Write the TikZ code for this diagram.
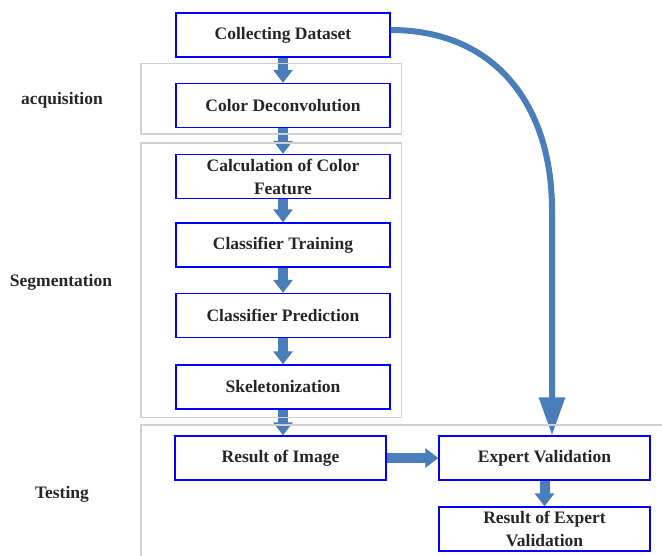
\documentclass[tikz,border=0pt]{standalone}
\usepackage{fontspec}
\setmainfont{Liberation Serif}
\usetikzlibrary{arrows.meta}
\definecolor{arrowblue}{RGB}{74,126,187}
\definecolor{framegray}{RGB}{208,208,210}
\begin{document}
\begin{tikzpicture}[x=1pt, y=-1pt, every node/.style={font=\fontsize{17.5}{23}\selectfont\bfseries, text=black!85}]
  \tikzstyle{stage}=[draw=blue, line width=1.3pt, minimum width=214pt, minimum height=44pt, align=center, inner sep=1pt]
  \tikzstyle{fat}=[draw=arrowblue, line width=10pt, -{Triangle[width=19pt,length=13pt]}]
  \tikzstyle{group}=[draw=framegray, line width=1.4pt]
  \useasboundingbox (0,0) rectangle (662,555);
  \node[stage] (cd) at (283,35) {Collecting Dataset};
  \node[stage] (dc) at (283,105.5) {Color Deconvolution};
  \node[stage] (cf) at (283,176.5) {Calculation of Color\\Feature};
  \node[stage] (ct) at (283,245) {Classifier Training};
  \node[stage] (cp) at (283,315.5) {Classifier Prediction};
  \node[stage] (sk) at (283,387) {Skeletonization};
  \node[stage, minimum width=211pt] (ri) at (280.5,458) {Result of Image};
  \node[stage, minimum width=211pt] (ev) at (544.5,458) {Expert Validation};
  \node[stage, minimum width=211pt] (re) at (544.5,529) {Result of Expert\\Validation};
  \draw[fat] (cd) -- (dc);
  \draw[fat] (dc) -- (cf);
  \draw[fat] (cf) -- (ct);
  \draw[fat] (ct) -- (cp);
  \draw[fat] (cp) -- (sk);
  \draw[fat] (sk.south) -- (ri.north -| sk.south);
  \draw[fat] (ri) -- (ev);
  \draw[fat] (ev) -- (re);
  % side path straight to the expert
  \coordinate (turn) at (552,210);
  \draw[draw=arrowblue, line width=6pt, -{Triangle[width=25pt,length=38pt]}]
    ([yshift=5pt]cd.east) .. controls (495,30) and (552,105) .. (turn) -- (ev.north -| turn);
  % stage frames
  \draw[group] (141,63.5) rectangle (401.5,134);
  \draw[group] (141,143) rectangle (401.5,417.5);
  \draw[group] (670,425) -- (141,425) -- (141,565);
  \node (acq) at (62,100) {acquisition};
  \node (seg) at (61,282) {Segmentation};
  \node (tst) at (62,494) {Testing};
\end{tikzpicture}
\end{document}
